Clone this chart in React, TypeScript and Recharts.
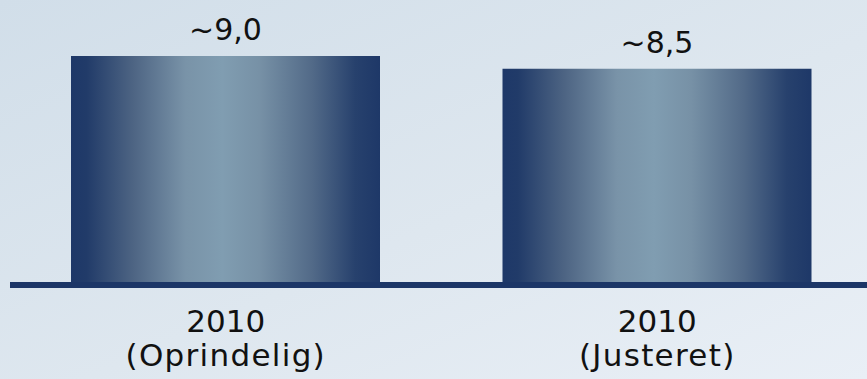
import React from "react";
import { BarChart, Bar, XAxis, YAxis, ReferenceLine, LabelList } from "recharts";

const years = ["2010", "2010"];
const notes = ["(Oprindelig)", "(Justeret)"];
const values = [9.0, 8.5];
const valueLabels = ["~9,0", "~8,5"];

const data = years.map((y, i) => ({
  key: `${y} ${notes[i]}`,
  value: values[i],
  label: valueLabels[i],
  year: y,
  note: notes[i],
}));

const FONT = "'DejaVu Sans', Verdana, sans-serif";

const Tick = (props: any) => {
  const { x, y, payload } = props;
  const row = data.find((d) => d.key === payload.value);
  if (!row) return null;
  return (
    <text x={x} y={y} textAnchor="middle" fontFamily={FONT} fontSize={31} fill="#111">
      <tspan x={x} dy={47}>{row.year}</tspan>
      <tspan x={x} dy={34} letterSpacing={1.3}>{row.note}</tspan>
    </text>
  );
};

export default function App() {
  return (
    <div
      style={{
        position: "absolute",
        left: 0,
        top: 0,
        width: 867,
        height: 379,
        overflow: "hidden",
        background: "linear-gradient(to bottom right, #d1dee9 0%, #dee7ef 55%, #e9eff6 100%)",
      }}
    >
      <BarChart
        width={875}
        height={379}
        data={data}
        margin={{ top: 56, right: 2, bottom: 0, left: 10 }}
        barCategoryGap={0}
      >
        <defs>
          <linearGradient id="barGrad" x1="0" y1="0" x2="1" y2="0">
            <stop offset="0%" stopColor="#1e3868" />
            <stop offset="5%" stopColor="#213b69" />
            <stop offset="20%" stopColor="#4d6483" />
            <stop offset="37%" stopColor="#7993a8" />
            <stop offset="49%" stopColor="#809db1" />
            <stop offset="61%" stopColor="#7791a6" />
            <stop offset="78%" stopColor="#526a88" />
            <stop offset="92%" stopColor="#27416d" />
            <stop offset="100%" stopColor="#1e3868" />
          </linearGradient>
        </defs>
        <XAxis
          dataKey="key"
          axisLine={false}
          tickLine={false}
          tickSize={0}
          tickMargin={0}
          height={94}
          interval={0}
          tick={<Tick />}
        />
        <YAxis hide domain={[0, 9]} />
        <Bar dataKey="value" fill="url(#barGrad)" barSize={309} isAnimationActive={false}>
          <LabelList
            dataKey="label"
            position="top"
            offset={16}
            fontSize={30}
            fontFamily={FONT}
            fill="#111"
          />
        </Bar>
        <ReferenceLine y={0} stroke="#1c3667" strokeWidth={6} ifOverflow="visible" />
      </BarChart>
    </div>
  );
}
